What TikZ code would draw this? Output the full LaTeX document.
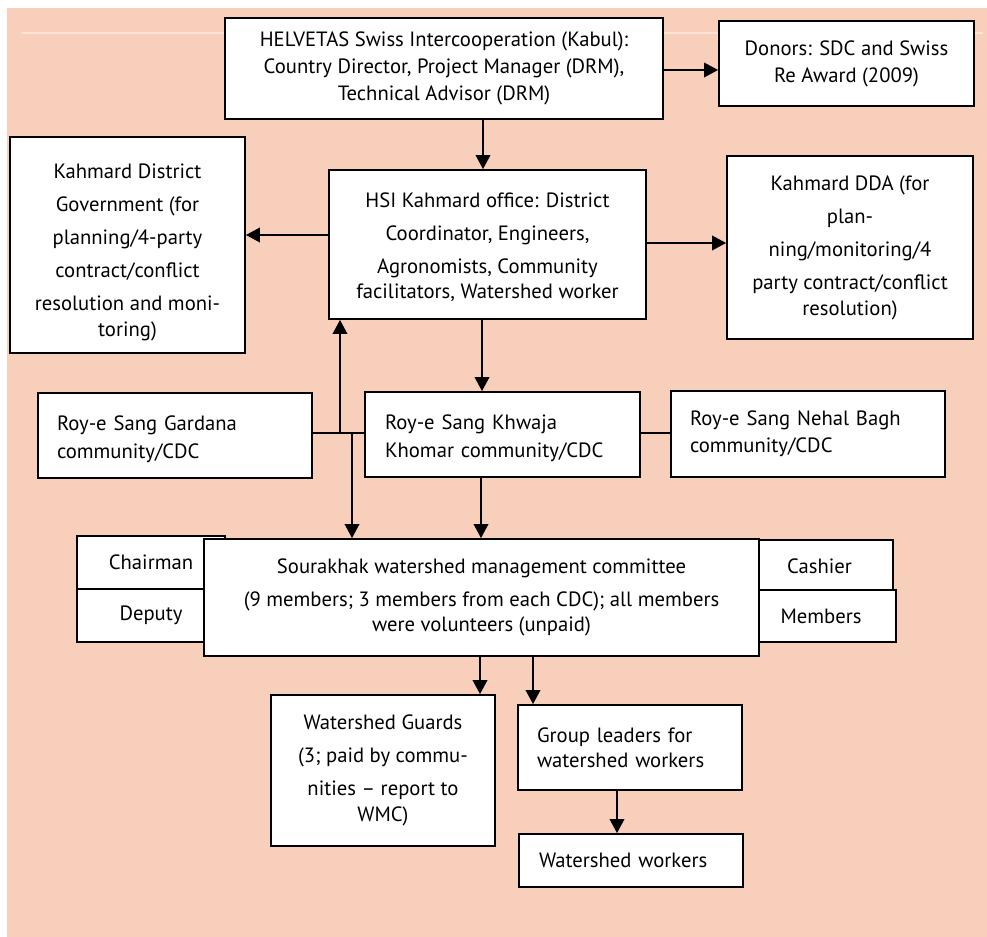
\documentclass[tikz,border=0pt]{standalone}
\usepackage{fontspec}
\setmainfont{PT Sans}
\usetikzlibrary{arrows.meta}
\definecolor{peach}{RGB}{247,207,186}
\definecolor{faint}{RGB}{251,227,214}
\newcommand\bx[7]{%
  \node[box,#6,minimum width={(#4-#2)*0.75pt},minimum height={(#5-#3)*0.75pt}]
    (#1) at ({(#2+#4)/2},{(#3+#5)/2}) {#7};}
\begin{document}
\begin{tikzpicture}[x=0.75pt,y=-0.75pt,
  box/.style={draw=black,line width=1.4pt,fill=white,inner sep=0pt,align=center,
              font=\fontsize{15.5}{24.75}\selectfont},
  tight/.style={font=\fontsize{15.5}{20.25}\selectfont},
  comm/.style={font=\fontsize{15.5}{21}\selectfont},
  conn/.style={line width=1.1pt,-{Triangle[width=11pt,length=10.5pt]}},
  plainline/.style={line width=1.1pt}]
\useasboundingbox (0,0) rectangle (987,937);
\fill[white] (0,0) rectangle (987,937);
\fill[peach] (7,8) rectangle (987,937);
\draw[faint,line width=0.8pt] (22,33) -- (983,33);

% top row
\bx{help}{225}{18}{663}{119}{tight}{HELVETAS Swiss Intercooperation (Kabul):\\Country Director, Project Manager (DRM),\\Technical Advisor (DRM)}
\bx{donors}{719}{21}{974}{106}{tight}{Donors: SDC and Swiss\\Re Award (2009)}

% second row
\bx{gov}{10}{137}{245}{353}{}{\rule{0pt}{22pt}Kahmard District\\Government (for\\planning/4-party\\contract/conflict\\resolution and moni-\\[-5.25pt]toring)}
\bx{hsi}{329}{170}{646}{319}{}{\rule{0pt}{15pt}HSI Kahmard office: District\\Coordinator, Engineers,\\Agronomists, Community\\[-6pt]facilitators, Watershed worker}
\bx{dda}{727}{156}{973}{339}{}{Kahmard DDA (for\\plan-\\ning/monitoring/4\\party contract/conflict\\[-5.25pt]resolution)}

% communities
\bx{gardana}{38}{393}{312}{478}{comm,align=left,inner xsep=14.25pt,text width=177pt}{\rule{0pt}{16pt}Roy-e Sang Gardana\\community/CDC}
\bx{khwaja}{365}{392}{640}{477}{comm,align=left,inner xsep=15pt,text width=176.25pt}{\rule{0pt}{16pt}Roy-e Sang Khwaja\\Khomar community/CDC}
\bx{nehal}{671}{391}{945}{477}{tight,align=left,inner xsep=14.25pt,text width=177pt}{Roy-e Sang Nehal Bagh\\community/CDC}

% committee
\bx{chair}{77}{536}{225}{589}{}{Chairman}
\bx{deputy}{77}{589}{225}{642}{}{Deputy}
\bx{cashier}{746}{540}{893}{592}{}{Cashier}
\bx{members}{746}{590}{896}{642}{}{Members}
\bx{sour}{204}{539}{759}{656}{}{Sourakhak watershed management committee\\(9 members; 3 members from each CDC); all members\\[-6pt]were volunteers (unpaid)}

% bottom
\bx{guards}{271}{695}{495}{846}{}{Watershed Guards\\(3; paid by commu-\\nities – report to\\[-5.25pt]WMC)}
\bx{group}{518}{705}{742}{790}{font=\fontsize{15.5}{18.75}\selectfont,align=left,inner xsep=14.25pt,text width=139.5pt}{Group leaders for\\watershed workers}
\bx{workers}{519}{834}{743}{887}{align=left,inner xsep=15pt,text width=138pt}{Watershed workers}

% helper coordinates
\coordinate (x483) at (483,0);
\coordinate (x482) at (482,0);
\coordinate (x481) at (481,0);
\coordinate (x480) at (480,0);
\coordinate (x533) at (533,0);
\coordinate (x617) at (617,0);
\coordinate (y70) at (0,70);
\coordinate (y235) at (0,235);
\coordinate (y243) at (0,243);
\coordinate (y433) at (0,433);
\coordinate (j1) at (340,433);
\coordinate (j2) at (352,433);

% connectors
\draw[conn] (help.south -| x483) -- (hsi.north -| x483);
\draw[conn] (help.east |- y70) -- (donors.west |- y70);
\draw[conn] (hsi.west |- y235) -- (gov.east |- y235);
\draw[conn] (hsi.east |- y243) -- (dda.west |- y243);
\draw[conn] (hsi.south -| x482) -- (khwaja.north -| x482);
\draw[plainline] (gardana.east |- y433) -- (khwaja.west |- y433);
\draw[conn] (j1) -- (hsi.south -| j1);
\draw[conn] (j2) -- (sour.north -| j2);
\draw[conn] (khwaja.south -| x481) -- (sour.north -| x481);
\draw[plainline] (khwaja.east |- y433) -- (nehal.west |- y433);
\draw[conn] (sour.south -| x480) -- (guards.north -| x480);
\draw[conn] (sour.south -| x533) -- (group.north -| x533);
\draw[conn] (group.south -| x617) -- (workers.north -| x617);
\end{tikzpicture}
\end{document}
